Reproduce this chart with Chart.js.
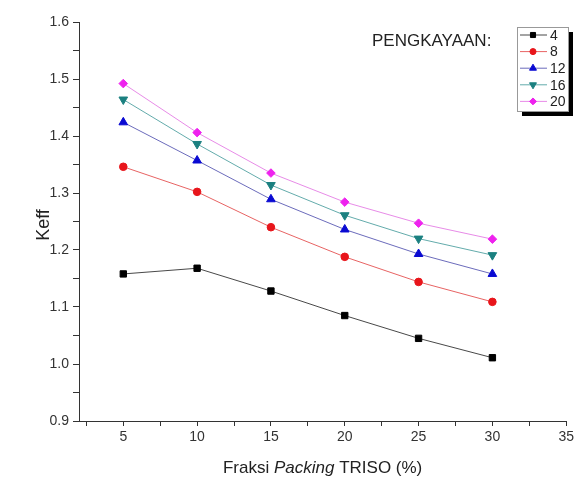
<!DOCTYPE html>
<html lang="en">
<head>
    <meta charset="UTF-8">
    <title>Keff vs Fraksi Packing TRISO</title>
    <script src="https://cdn.jsdelivr.net/npm/chart.js"></script>
    <style>
        html, body { margin: 0; padding: 0; background: #fff; }
        .chart-container { width: 577px; height: 479px; }
    </style>
</head>
<body>
    <div class="chart-container">
        <canvas id="keffChart"></canvas>
    </div>
    <script>
        // data
        const packing = [5, 10, 15, 20, 25, 30];
        const keff4  = [1.158, 1.168, 1.128, 1.085, 1.045, 1.011];
        const keff8  = [1.346, 1.302, 1.240, 1.188, 1.144, 1.109];
        const keff12 = [1.424, 1.357, 1.289, 1.236, 1.193, 1.158];
        const keff16 = [1.464, 1.386, 1.314, 1.261, 1.220, 1.191];
        const keff20 = [1.492, 1.406, 1.335, 1.284, 1.247, 1.219];
        const enrichment = ['4', '8', '12', '16', '20'];
        const xTicks = [2.5, 5, 7.5, 10, 12.5, 15, 17.5, 20, 22.5, 25, 27.5, 30, 32.5, 35];

        const FONT = '"Liberation Sans", Arial, sans-serif';

        function pts(vals) {
            return vals.map((v, i) => ({ x: packing[i], y: v }));
        }

        function makeSet(label, vals, color, lineColor, style, radius, rotation) {
            return {
                label: label,
                data: pts(vals),
                borderColor: lineColor,
                backgroundColor: color,
                borderWidth: 1,
                pointStyle: style,
                pointRadius: radius,
                pointRotation: rotation || 0,
                pointBorderWidth: 1,
                pointBackgroundColor: color,
                pointBorderColor: color,
                tension: 0
            };
        }

        const datasets = [
            makeSet(enrichment[0], keff4, '#000000', 'rgba(40,40,40,0.85)', 'rect', 4.5),
            makeSet(enrichment[1], keff8, '#e8151b', 'rgba(225,60,60,0.8)', 'circle', 3.8),
            makeSet(enrichment[2], keff12, '#0a0ad2', 'rgba(70,70,170,0.8)', 'triangle', 5),
            makeSet(enrichment[3], keff16, '#1b8080', 'rgba(60,150,150,0.8)', 'triangle', 5, 180),
            makeSet(enrichment[4], keff20, '#ee22ee', 'rgba(225,110,225,0.8)', 'rectRot', 4.3)
        ];

        // titles and the boxed legend drawn by hand
        const decorations = {
            id: 'decorations',
            afterDraw(chart) {
                const ctx = chart.ctx;
                const area = chart.chartArea;
                ctx.save();
                ctx.fillStyle = '#222';
                ctx.textBaseline = 'middle';

                // y title
                ctx.save();
                ctx.translate(44, 225);
                ctx.rotate(-Math.PI / 2);
                ctx.font = '18px ' + FONT;
                ctx.textAlign = 'center';
                ctx.fillText('Keff', 0, 0);
                ctx.restore();

                // x title with italic word
                const parts = [
                    { t: 'Fraksi ', f: '17px ' + FONT },
                    { t: 'Packing', f: 'italic 17px ' + FONT },
                    { t: ' TRISO (%)', f: '17px ' + FONT }
                ];
                let total = 0;
                parts.forEach(p => { ctx.font = p.f; p.w = ctx.measureText(p.t).width; total += p.w; });
                let x = (area.left + area.right) / 2 - total / 2;
                ctx.textAlign = 'left';
                parts.forEach(p => { ctx.font = p.f; ctx.fillText(p.t, x, 468); x += p.w; });

                // legend heading
                ctx.font = '17px ' + FONT;
                ctx.fillText('PENGKAYAAN:', 372, 41);

                // legend box with shadow
                const bx = 517, by = 27, bw = 51, bh = 84;
                ctx.fillStyle = '#000';
                ctx.fillRect(bx + 5, by + 5, bw, bh);
                ctx.fillStyle = '#fff';
                ctx.fillRect(bx, by, bw, bh);
                ctx.strokeStyle = '#999';
                ctx.lineWidth = 1;
                ctx.strokeRect(bx + 0.5, by + 0.5, bw, bh);

                ctx.font = '14px ' + FONT;
                chart.data.datasets.forEach((ds, i) => {
                    const y = 35 + i * 16.6;
                    ctx.strokeStyle = ds.borderColor;
                    ctx.beginPath();
                    ctx.moveTo(520, y);
                    ctx.lineTo(547, y);
                    ctx.stroke();
                    ctx.fillStyle = ds.backgroundColor;
                    ctx.strokeStyle = ds.backgroundColor;
                    Chart.helpers.drawPoint(ctx, {
                        pointStyle: ds.pointStyle,
                        radius: ds.pointRadius * 0.8,
                        rotation: ds.pointRotation,
                        borderWidth: 1
                    }, 533, y);
                    ctx.fillStyle = '#222';
                    ctx.fillText(ds.label, 550, y + 1);
                });
                ctx.restore();
            }
        };

        const ctx = document.getElementById('keffChart').getContext('2d');
        new Chart(ctx, {
            type: 'line',
            data: { datasets: datasets },
            options: {
                responsive: true,
                maintainAspectRatio: false,
                animation: false,
                layout: { padding: { top: 22, right: 8, left: 0, bottom: 0 } },
                plugins: {
                    legend: { display: false },
                    tooltip: { enabled: false }
                },
                scales: {
                    x: {
                        type: 'linear',
                        min: 2,
                        max: 35,
                        afterBuildTicks: (scale) => {
                            scale.ticks = xTicks.map(v => ({ value: v }));
                        },
                        afterFit: (scale) => { scale.height = 58; },
                        ticks: {
                            autoSkip: false,
                            maxRotation: 0,
                            padding: 3,
                            color: '#333',
                            font: { family: FONT, size: 14 },
                            callback: (v) => (v % 5 === 0 ? String(v) : '')
                        },
                        grid: {
                            drawOnChartArea: false,
                            tickLength: 5,
                            color: '#333'
                        },
                        border: { color: '#333', width: 1 }
                    },
                    y: {
                        min: 0.9,
                        max: 1.6,
                        afterBuildTicks: (scale) => {
                            const t = [];
                            for (let i = 0; i <= 14; i++) t.push({ value: 0.9 + i * 0.05 });
                            scale.ticks = t;
                        },
                        afterFit: (scale) => { scale.width = 79; },
                        ticks: {
                            autoSkip: false,
                            padding: 4,
                            color: '#333',
                            font: { family: FONT, size: 14 },
                            callback: (v, i) => (i % 2 === 0 ? v.toFixed(1) : '')
                        },
                        grid: {
                            drawOnChartArea: false,
                            tickLength: 6,
                            color: '#333'
                        },
                        border: { color: '#333', width: 1 }
                    }
                }
            },
            plugins: [decorations]
        });
    </script>
</body>
</html>
